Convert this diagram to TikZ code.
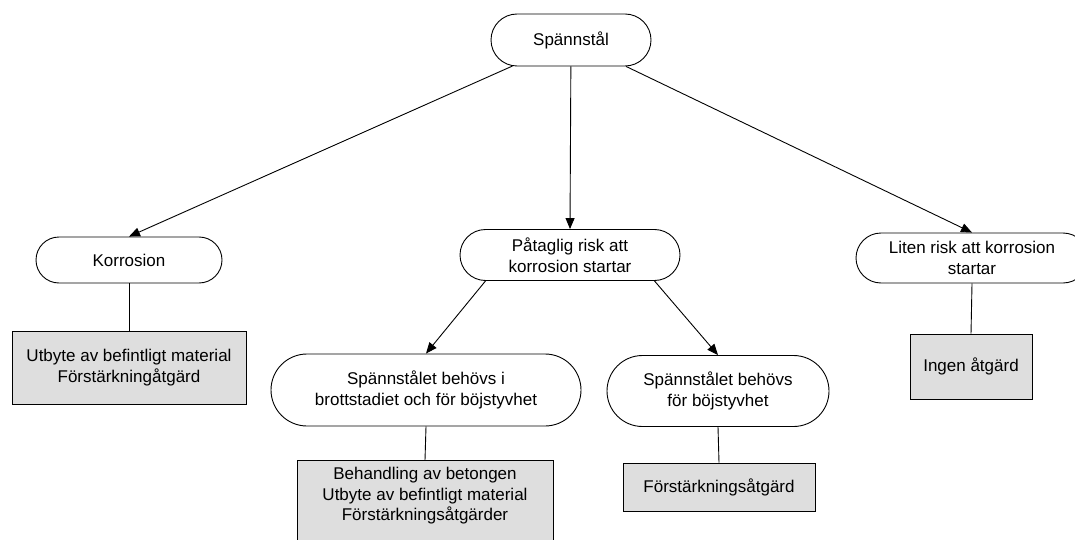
\documentclass[tikz,border=0pt]{standalone}
\usepackage{fontspec}
\setmainfont{Liberation Sans}
\usetikzlibrary{shapes.misc,arrows.meta}
\definecolor{boxgray}{RGB}{222,222,222}
\tikzset{
  every node/.style={font=\fontsize{17}{20.5}\selectfont},
  term/.style={rounded rectangle, draw, align=center, inner sep=0pt, line width=0.9pt},
  act/.style={rectangle, draw, fill=boxgray, align=center, inner sep=0pt, line width=0.9pt},
  link/.style={line width=0.9pt},
  flow/.style={link, -{Triangle[length=11pt,width=9pt]}}
}
\begin{document}
\begin{tikzpicture}[x=1pt,y=-1pt]
\useasboundingbox (0,0) rectangle (1075,540);

% decision terminals
\node[term, minimum width=160, minimum height=52] (S)  at (571,40)  {Spännstål};
\node[term, minimum width=186, minimum height=46] (K)  at (129,260) {Korrosion};
\node[term, minimum width=220, minimum height=51] (P)  at (570,255) {Påtaglig risk att\\korrosion startar};
\node[term, minimum width=232, minimum height=50] (L)  at (972,258) {Liten risk att korrosion\\startar};
\node[term, minimum width=310, minimum height=72] (E1) at (426,390) {Spännstålet behövs i\\brottstadiet och för böjstyvhet};
\node[term, minimum width=222, minimum height=71] (E2) at (718,391) {Spännstålet behövs\\för böjstyvhet};

% measures
\node[act, minimum width=234, minimum height=73] (B1) at (129,367.5) {Utbyte av befintligt material\\Förstärkningåtgärd};
\node[act, minimum width=256, anchor=north, inner ysep=7pt] (B2) at (425,460)
  {Behandling av betongen\\Utbyte av befintligt material\\Förstärkningsåtgärder\rule[-20pt]{0pt}{0pt}};
\node[act, minimum width=192, minimum height=48] (B3) at (719,487) {Förstärkningsåtgärd};
\node[act, minimum width=122, minimum height=65] (B4) at (971,366.5) {Ingen åtgärd};

% connectors
\draw[flow] (S) -- (K.north);
\draw[flow] (S) -- (P.north);
\draw[flow] (S) -- (L.north);
\draw[flow] (P.south west) -- (E1.north);
\draw[flow] (P.south east) -- (E2.north);
\draw[link] (K.south) -- (B1.north);
\draw[link] (E1.south) -- (B2.north);
\draw[link] (E2.south) -- (B3.north);
\draw[link] (L.south) -- (B4.north);
\end{tikzpicture}
\end{document}
